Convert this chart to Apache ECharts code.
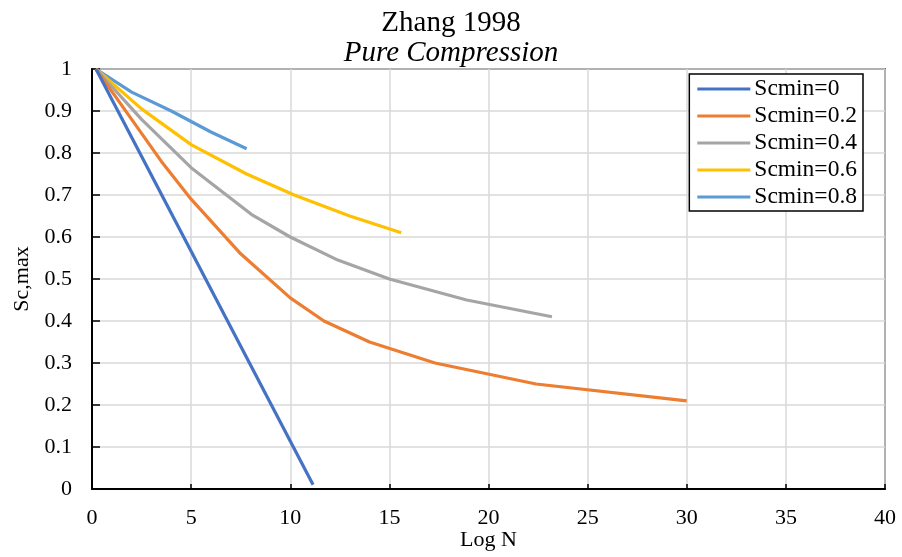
<!DOCTYPE html>
<html>
<head>
<meta charset="utf-8">
<script src="https://cdn.jsdelivr.net/npm/echarts@6/dist/echarts.min.js"></script>
<style>
  html, body { margin: 0; padding: 0; background: #fff; }
  #chart { width: 902px; height: 557px; }
</style>
</head>
<body>
<div id="chart"></div>
<script>
// S-N curves (Log N vs. Sc,max) for different minimum stress levels
const seriesNames = ['Scmin=0', 'Scmin=0.2', 'Scmin=0.4', 'Scmin=0.6', 'Scmin=0.8'];
const seriesColors = ['#4472C4', '#ED7D31', '#A5A5A5', '#FFC000', '#5B9BD5'];

const scmin0 = [[0.2, 1], [11.15, 0.01]];
const scmin02 = [[0.2, 1], [2, 0.88], [3.5, 0.78], [5, 0.69], [7.5, 0.56], [10, 0.455], [11.7, 0.4], [14, 0.35], [17.3, 0.3], [22.4, 0.25], [30, 0.21]];
const scmin04 = [[0.2, 1], [2.5, 0.88], [5, 0.765], [8.1, 0.652], [10, 0.6], [12.4, 0.545], [15, 0.5], [18.9, 0.45], [23.2, 0.41]];
const scmin06 = [[0.2, 1], [2.5, 0.905], [5, 0.82], [7.8, 0.75], [10.2, 0.7], [13, 0.65], [15.6, 0.61]];
const scmin08 = [[0.2, 1], [2, 0.945], [4, 0.9], [6, 0.85], [7.8, 0.81]];

const xTicks = [0, 5, 10, 15, 20, 25, 30, 35, 40];
const yTicks = [0, 0.1, 0.2, 0.3, 0.4, 0.5, 0.6, 0.7, 0.8, 0.9, 1];

const allData = [scmin0, scmin02, scmin04, scmin06, scmin08];
const font = '"Liberation Serif", "Times New Roman", serif';

const chart = echarts.init(document.getElementById('chart'), null, { renderer: 'canvas' });
chart.setOption({
  backgroundColor: '#ffffff',
  animation: false,
  title: [
    { text: 'Zhang 1998', left: 'center', top: 4,
      textStyle: { fontFamily: font, fontSize: 29, fontWeight: 'normal', color: '#000' } },
    { text: 'Pure Compression', left: 'center', top: 34,
      textStyle: { fontFamily: font, fontSize: 29, fontWeight: 'normal', fontStyle: 'italic', color: '#000' } }
  ],
  grid: {
    left: 92, right: 17, top: 69, bottom: 68,
    outerBoundsMode: 'none', containLabel: false,
    show: true, borderColor: '#000', borderWidth: 1.5
  },
  legend: {
    right: 39, top: 74, orient: 'vertical',
    itemWidth: 53, itemHeight: 3, itemGap: 3,
    backgroundColor: '#fff', borderColor: '#000', borderWidth: 1.5,
    padding: [3, 6, 2, 8],
    textStyle: { fontFamily: font, fontSize: 23.5, lineHeight: 23, color: '#000', padding: [0, 0, 0, -1] },
    data: seriesNames.map(n => ({ name: n, icon: 'rect' }))
  },
  xAxis: {
    type: 'value', min: xTicks[0], max: xTicks[xTicks.length - 1], interval: 5,
    name: 'Log N', nameLocation: 'middle', nameGap: 40, nameMoveOverlap: false,
    nameTextStyle: { fontFamily: font, fontSize: 22, color: '#000' },
    axisLine: { show: true, lineStyle: { color: '#000', width: 2 } },
    axisTick: { show: true, inside: true, length: 5, lineStyle: { color: '#000', width: 1.5 } },
    axisLabel: { fontFamily: font, fontSize: 22, color: '#000', margin: 18 },
    splitLine: { show: true, lineStyle: { color: '#d9d9d9', width: 1.5 } }
  },
  yAxis: {
    type: 'value', min: yTicks[0], max: yTicks[yTicks.length - 1], interval: 0.1,
    name: 'Sc,max', nameLocation: 'middle', nameGap: 59, nameRotate: 90, nameMoveOverlap: false,
    nameTextStyle: { fontFamily: font, fontSize: 22, color: '#000' },
    axisLine: { show: true, lineStyle: { color: '#000', width: 2 } },
    axisTick: { show: true, inside: true, length: 8, lineStyle: { color: '#000', width: 1.5 } },
    axisLabel: { fontFamily: font, fontSize: 22, color: '#000', margin: 20,
      formatter: v => String(Math.round(v * 10) / 10) },
    splitLine: { show: true, lineStyle: { color: '#d9d9d9', width: 1.5 } }
  },
  series: allData.map((d, i) => ({
    name: seriesNames[i],
    type: 'line',
    data: d,
    showSymbol: false,
    symbol: 'none',
    smooth: false,
    lineStyle: { color: seriesColors[i], width: 3.2 },
    itemStyle: { color: seriesColors[i] },
    z: 10 - i
  }))
});
</script>
</body>
</html>
